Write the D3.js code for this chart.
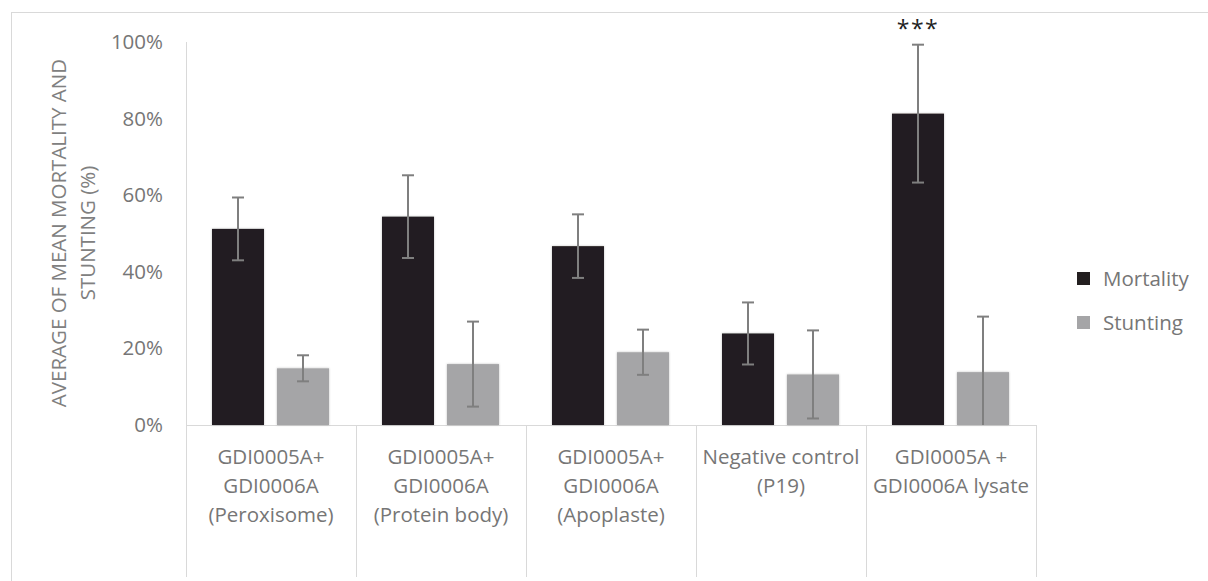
<!DOCTYPE html>
<html>
<head>
<meta charset="utf-8">
<script src="https://cdn.jsdelivr.net/npm/d3@7/dist/d3.min.js"></script>
<style>
  html, body { margin: 0; padding: 0; background: #fff; }
  svg { display: block; }
  text { font-family: "Open Sans", sans-serif; }
</style>
</head>
<body>
<svg id="chart" width="1208" height="581"></svg>
<script>
const categories = [
  ["GDI0005A+", "GDI0006A", "(Peroxisome)"],
  ["GDI0005A+", "GDI0006A", "(Protein body)"],
  ["GDI0005A+", "GDI0006A", "(Apoplaste)"],
  ["Negative control", "(P19)"],
  ["GDI0005A +", "GDI0006A lysate"]
];
const seriesNames = ["Mortality", "Stunting"];
const mortality = [51.2, 54.4, 46.7, 23.9, 81.3];
const mortalityErr = [8.2, 10.8, 8.3, 8.1, 18.0];
const stunting = [14.8, 15.9, 19.0, 13.2, 13.8];
const stuntingErr = [3.4, 11.1, 5.9, 11.5, 14.5];
const yTicks = [0, 20, 40, 60, 80, 100];
const yTitle = ["AVERAGE OF MEAN MORTALITY AND", "STUNTING (%)"];
const significance = ["", "", "", "", "***"];

(function () {
const colors = ["#231f20", "#a5a5a7"];
const FS = 20.5;
const svg = d3.select("#chart");

// outer border
svg.append("rect").attr("x", 11.5).attr("y", 12.5).attr("width", 1210).attr("height", 600)
  .attr("fill", "none").attr("stroke", "#d9d9d9").attr("stroke-width", 1);

const pLeft = 186, pRight = 1036, pTop = 42, pBottom = 425;
const x = d3.scaleBand().domain(d3.range(categories.length)).range([pLeft, pRight]).paddingInner(0).paddingOuter(0);
const y = d3.scaleLinear().domain([0, 100]).range([pBottom, pTop]);
const bw = x.bandwidth();
const barW = bw * 52 / 170, gap = bw * 13 / 170, pad = bw * 26 / 170;

// y axis line
svg.append("line").attr("x1", pLeft + 0.5).attr("x2", pLeft + 0.5).attr("y1", pTop).attr("y2", pBottom)
  .attr("stroke", "#d9d9d9");

// y tick labels via axis
const yAxis = d3.axisLeft(y).tickValues(yTicks).tickFormat(d => d + "%").tickSize(0).tickPadding(23);
const ya = svg.append("g").attr("transform", `translate(${pLeft},0)`).call(yAxis);
ya.select(".domain").remove();
ya.selectAll("text").attr("fill", "#767676").attr("font-size", FS).attr("font-family", "Open Sans, sans-serif");

// category dividers below axis
const dividers = d3.range(categories.length + 1).map(i => i < categories.length ? x(i) : pRight);
svg.selectAll(".div").data(dividers).enter().append("line")
  .attr("x1", d => Math.round(d) + 0.5).attr("x2", d => Math.round(d) + 0.5)
  .attr("y1", pBottom).attr("y2", 577).attr("stroke", "#d9d9d9");

// baseline
svg.append("line").attr("x1", pLeft).attr("x2", pRight).attr("y1", pBottom + 0.5).attr("y2", pBottom + 0.5)
  .attr("stroke", "#d9d9d9");

// bars
const seriesData = [
  { vals: mortality, errs: mortalityErr },
  { vals: stunting, errs: stuntingErr }
];
const defs = svg.append("defs");
const f = defs.append("filter").attr("id", "sh").attr("x", "-20%").attr("y", "-20%").attr("width", "140%").attr("height", "140%");
f.append("feDropShadow").attr("dx", 0).attr("dy", 0).attr("stdDeviation", 1.2).attr("flood-color", "#000").attr("flood-opacity", 0.25);

seriesData.forEach((s, si) => {
  const bx = i => x(i) + pad + si * (barW + gap);
  svg.append("g").selectAll("rect").data(s.vals).enter().append("rect")
    .attr("x", (d, i) => bx(i)).attr("y", d => y(d))
    .attr("width", barW).attr("height", d => y(0) - y(d))
    .attr("fill", colors[si]).attr("filter", "url(#sh)");
  // error bars
  const eg = svg.append("g").attr("stroke", "#7f7f7f").attr("stroke-width", 2);
  s.vals.forEach((v, i) => {
    const cx = bx(i) + barW / 2;
    const hi = v + s.errs[i], lo = Math.max(0, v - s.errs[i]);
    eg.append("line").attr("x1", cx).attr("x2", cx).attr("y1", y(hi)).attr("y2", y(lo));
    eg.append("line").attr("x1", cx - 6).attr("x2", cx + 6).attr("y1", y(hi)).attr("y2", y(hi));
    if (v - s.errs[i] >= 0) {
      eg.append("line").attr("x1", cx - 6).attr("x2", cx + 6).attr("y1", y(lo)).attr("y2", y(lo));
    }
  });
});

// significance markers
significance.forEach((t, i) => {
  if (!t) return;
  const cx = x(i) + pad + barW / 2;
  svg.append("text").attr("x", cx).attr("y", 37).attr("text-anchor", "middle")
    .attr("font-size", 23).attr("fill", "#222").attr("letter-spacing", 1.5).text(t);
});

// category labels
categories.forEach((lines, i) => {
  const t = svg.append("text").attr("text-anchor", "middle").attr("font-size", FS).attr("fill", "#767676");
  lines.forEach((ln, j) => {
    t.append("tspan").attr("x", x(i) + bw / 2).attr("y", 464 + j * 29).text(ln);
  });
});

// y title
const yt = svg.append("text").attr("transform", "translate(0,233) rotate(-90)")
  .attr("text-anchor", "middle").attr("font-size", FS).attr("fill", "#808080");
yTitle.forEach((ln, j) => {
  yt.append("tspan").attr("x", 0).attr("y", 66 + j * 29).text(ln);
});

// legend
const lg = svg.append("g");
seriesNames.forEach((n, i) => {
  const ly = 279 + i * 44;
  lg.append("rect").attr("x", 1077).attr("y", ly - 7).attr("width", 13).attr("height", 13).attr("fill", colors[i]);
  lg.append("text").attr("x", 1103).attr("y", ly + 7).attr("font-size", FS).attr("fill", "#767676").text(n);
});
})();
</script>
</body>
</html>
